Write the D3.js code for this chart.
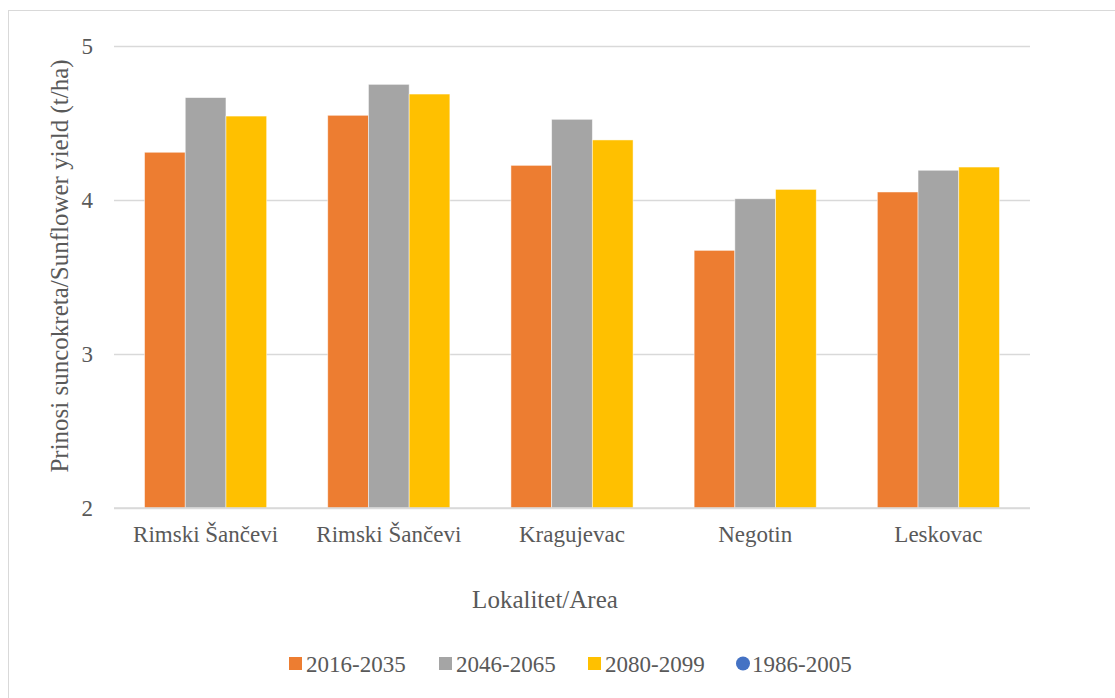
<!DOCTYPE html>
<html>
  <head>
    <meta charset="UTF-8">
    <title>Sunflower yield</title>
    <style>
      body { margin: 0; background: #fff; }
      svg { display: block; }
    </style>
  </head>
  <body>

    <svg></svg>

    <script src="https://d3js.org/d3.v7.min.js"></script>
    <script>

// data
var areas = ["Rimski Šančevi", "Rimski Šančevi ", "Kragujevac", "Negotin", "Leskovac"];
var series = ["2016-2035", "2046-2065", "2080-2099"];
var v2016 = [4.31, 4.55, 4.225, 3.673, 4.052];
var v2046 = [4.665, 4.751, 4.524, 4.008, 4.193];
var v2080 = [4.545, 4.688, 4.39, 4.069, 4.214];
var legendKeys = ["2016-2035", "2046-2065", "2080-2099", "1986-2005"];
var yTicks = [2, 3, 4, 5];

var config = {
  width: 1115,
  height: 698,
  plot: { left: 114, right: 1030, top: 46, bottom: 508 },
  colors: ["#ED7D31", "#A5A5A5", "#FFC000", "#4472C4"],
  text: "#595959",
  grid: "#D9D9D9",
  font: "'Liberation Serif', 'Times New Roman', serif"
};

var svg = d3.select("svg")
  .attr("width", config.width)
  .attr("height", config.height)
  .style("font-family", config.font);

// chart area border
svg.append("rect")
  .attr("x", 8.5).attr("y", 10.5)
  .attr("width", 1130).attr("height", 700)
  .attr("fill", "none")
  .attr("stroke", "#D9D9D9");

var values = [v2016, v2046, v2080];
var data = areas.map(function(a, i) {
  return { area: a, vals: series.map(function(s, j) { return { key: s, idx: j, value: values[j][i] }; }) };
});

var x0 = d3.scaleBand()
  .domain(areas)
  .range([config.plot.left, config.plot.right])
  .paddingInner(1/3)
  .paddingOuter(1/6);

var x1 = d3.scaleBand()
  .domain(series)
  .range([0, x0.bandwidth()]);

var y = d3.scaleLinear()
  .domain([2, 5])
  .range([config.plot.bottom, config.plot.top]);

// gridlines + y tick labels
var yAxis = svg.append("g")
  .attr("transform", "translate(" + config.plot.left + ",0)")
  .call(d3.axisLeft(y).tickValues(yTicks).tickFormat(d3.format("d"))
    .tickSize(-(config.plot.right - config.plot.left)).tickPadding(21));
yAxis.select(".domain").remove();
yAxis.selectAll(".tick line").attr("stroke", config.grid).attr("stroke-width", 1.3);
yAxis.selectAll(".tick text")
  .attr("fill", config.text)
  .style("font-size", "23px")
  .style("font-family", config.font);

// bars
svg.append("g")
  .selectAll("g")
  .data(data)
  .enter().append("g")
    .attr("transform", function(d) { return "translate(" + x0(d.area) + ",0)"; })
  .selectAll("rect")
  .data(function(d) { return d.vals; })
  .enter().append("rect")
    .attr("x", function(d) { return x1(d.key); })
    .attr("y", function(d) { return y(d.value); })
    .attr("width", x1.bandwidth())
    .attr("height", function(d) { return y(2) - y(d.value); })
    .attr("fill", function(d) { return config.colors[d.idx]; })
    .attr("stroke", "#fff")
    .attr("stroke-opacity", 0.6)
    .attr("stroke-width", 0.8);

// baseline
svg.append("line")
  .attr("x1", config.plot.left).attr("x2", config.plot.right)
  .attr("y1", y(2)).attr("y2", y(2))
  .attr("stroke", config.grid)
  .attr("stroke-width", 1.5);

// category labels
var xAxis = svg.append("g")
  .attr("transform", "translate(0," + config.plot.bottom + ")")
  .call(d3.axisBottom(x0).tickSize(0).tickPadding(18).tickFormat(function(d) { return d.trim(); }));
xAxis.select(".domain").remove();
xAxis.selectAll(".tick text")
  .attr("fill", config.text)
  .style("font-size", "23px")
  .style("font-family", config.font);

// axis titles
svg.append("text")
  .attr("x", (config.plot.left + config.plot.right) / 2 - 27)
  .attr("y", 608)
  .attr("text-anchor", "middle")
  .attr("fill", config.text)
  .style("font-size", "25px")
  .text("Lokalitet/Area");

svg.append("text")
  .attr("transform", "translate(68,266) rotate(-90)")
  .attr("text-anchor", "middle")
  .attr("fill", config.text)
  .style("font-size", "25px")
  .text("Prinosi suncokreta/Sunflower yield (t/ha)");

// legend
var legendX = [289, 439, 588, 736];
var legend = svg.append("g")
  .selectAll("g")
  .data(legendKeys)
  .enter().append("g")
    .attr("transform", function(d, i) { return "translate(" + legendX[i] + ",664)"; });

legend.each(function(d, i) {
  var g = d3.select(this);
  if (i < 3) {
    g.append("rect")
      .attr("x", 0).attr("y", -7)
      .attr("width", 13).attr("height", 13)
      .attr("fill", config.colors[i]);
  } else {
    g.append("circle")
      .attr("cx", 7).attr("cy", -0.5)
      .attr("r", 7)
      .attr("fill", config.colors[i]);
  }
});

legend.append("text")
  .attr("x", function(d, i) { return i < 3 ? 17 : 16; })
  .attr("y", 0)
  .attr("dy", "0.35em")
  .attr("fill", config.text)
  .style("font-size", "23px")
  .text(function(d) { return d; });

    </script>
  </body>
</html>
